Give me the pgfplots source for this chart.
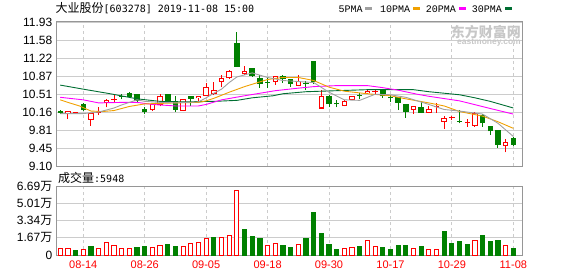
\documentclass[border=0pt]{standalone}
\usepackage{pgfplots}
\pgfplotsset{compat=1.18}
\usepackage{pgfplotstable}
\usepackage{fontspec}
\setmainfont{Liberation Sans}
\newfontfamily\cjk{Noto Sans CJK SC}
\newfontfamily\mono{Liberation Mono}
\newfontfamily\dmono{DejaVu Sans Mono}

\definecolor{cred}{RGB}{255,0,0}
\definecolor{cgreen}{RGB}{0,128,0}
\definecolor{ma5}{RGB}{160,160,160}
\definecolor{ma10}{RGB}{240,160,0}
\definecolor{ma20}{RGB}{255,0,255}
\definecolor{ma30}{RGB}{0,110,50}
\definecolor{gridc}{RGB}{204,204,204}
\definecolor{framec}{RGB}{150,150,150}

% up candles (close > open)
\pgfplotstableread{
i O C H L
1 10.12 10.19 10.19 10.03
2 10.14 10.16 10.16 10.13
4 10.01 10.14 10.15 9.89
5 10.15 10.17 10.25 10.11
6 10.33 10.40 10.41 10.25
7 10.40 10.42 10.51 10.34
12 10.20 10.32 10.33 10.18
13 10.29 10.47 10.52 10.27
16 10.19 10.41 10.42 10.18
18 10.43 10.47 10.48 10.37
19 10.48 10.65 10.74 10.47
20 10.52 10.60 10.75 10.50
21 10.75 10.82 10.89 10.65
22 10.82 10.97 10.99 10.81
24 10.90 10.97 11.07 10.89
28 10.75 10.86 10.87 10.70
31 10.68 10.77 10.88 10.67
34 10.23 10.47 10.59 10.23
37 10.28 10.38 10.39 10.27
38 10.40 10.47 10.48 10.39
40 10.53 10.58 10.61 10.52
41 10.56 10.58 10.60 10.50
46 10.21 10.27 10.28 10.13
48 10.15 10.22 10.27 10.14
49 10.25 10.27 10.34 10.15
50 9.97 10.05 10.09 9.83
51 10.04 10.06 10.09 10.00
53 9.94 9.96 10.02 9.87
54 9.89 10.15 10.16 9.87
58 9.49 9.58 9.63 9.37
}\redtab

% down candles (close < open)
\pgfplotstableread{
i O C H L
0 10.18 10.15 10.20 10.12
3 10.32 10.20 10.33 10.19
8 10.48 10.46 10.51 10.41
9 10.53 10.46 10.55 10.44
10 10.51 10.38 10.52 10.33
11 10.23 10.16 10.25 10.13
14 10.51 10.38 10.52 10.35
15 10.38 10.21 10.47 10.17
17 10.47 10.42 10.48 10.28
23 11.51 11.05 11.73 11.05
25 11.02 10.86 11.03 10.85
26 10.82 10.71 10.88 10.64
27 10.76 10.74 10.82 10.63
29 10.87 10.81 10.89 10.74
30 10.80 10.71 10.81 10.66
32 10.73 10.71 10.77 10.59
33 11.16 10.75 11.17 10.72
35 10.48 10.31 10.50 10.25
36 10.33 10.31 10.40 10.25
39 10.50 10.48 10.54 10.41
42 10.60 10.47 10.62 10.44
43 10.45 10.43 10.50 10.36
44 10.45 10.34 10.46 10.20
45 10.31 10.17 10.32 10.05
47 10.26 10.15 10.38 10.14
52 9.99 9.97 10.20 9.94
55 10.11 9.94 10.13 9.87
56 9.88 9.78 9.89 9.71
57 9.80 9.52 9.81 9.46
59 9.65 9.52 9.67 9.50
}\greentab

% volume (10k shares), red bars
\pgfplotstableread{
i v
0 0.59
1 0.59
3 0.49
5 0.65
6 1.18
7 0.95
8 0.65
9 0.59
12 0.75
13 0.95
16 0.79
17 1.08
18 1.18
19 1.64
21 1.74
22 1.93
23 6.26
27 0.95
28 1.15
31 1.05
37 0.59
38 0.69
40 1.38
41 0.79
46 0.59
48 0.49
49 0.49
54 1.38
58 0.88
}\volred

% volume, green bars
\pgfplotstableread{
i v
2 0.39
4 0.79
10 0.69
11 0.79
14 0.98
15 0.79
20 1.67
24 2.46
25 1.77
26 1.57
29 0.88
30 0.69
32 1.57
33 4.16
34 2.10
35 0.98
36 0.49
39 0.79
42 0.69
43 0.49
44 0.88
45 0.88
47 0.79
50 2.26
51 1.08
52 1.28
53 0.98
55 1.87
56 1.28
57 1.38
59 0.59
}\volgreen

\pgfplotsset{
  kstyle/.style={
    scale only axis, anchor=south west, width=466pt,
    xmin=-0.555, xmax=60.13,
    xtick={3,11,19,27,35,43,51,59},
    grid=major,
    x grid style={dashed, gridc, line width=0.8pt},
    y grid style={gridc, line width=0.8pt},
    major tick length=0pt,
    axis line style={framec, line width=1pt},
    yticklabel style={font=\fontsize{12}{12}\selectfont, anchor=east, inner sep=0pt, xshift=-3.5pt},
  },
  cbar/.style={draw=none, mark=none, forget plot,
    error bars/.cd, y dir=plus, y explicit, error mark=none,
    error bar style={#1}},
}

\begin{document}
\begin{tikzpicture}[x=1pt,y=1pt]

% ---------- price panel ----------
\begin{axis}[kstyle, at={(56pt,110pt)}, height=144pt,
  ymin=9.10, ymax=11.93,
  ytick={9.10,9.45375,9.8075,10.16125,10.515,10.86875,11.2225,11.57625,11.93},
  yticklabels={9.10,9.45,9.81,10.16,10.51,10.87,11.22,11.58,11.93},
  xticklabels={},
]
% wicks
\addplot[cbar={draw=cred, line width=1pt}]
  table[x=i, y=L, y error plus expr=\thisrow{H}-\thisrow{L}] {\redtab};
\addplot[cbar={draw=cgreen, line width=1pt}]
  table[x=i, y=L, y error plus expr=\thisrow{H}-\thisrow{L}] {\greentab};
% bodies
\addplot[cbar={draw=cgreen, line width=5.5pt}]
  table[x=i, y=C, y error plus expr=\thisrow{O}-\thisrow{C}] {\greentab};
\addplot[cbar={draw=cred, line width=5.5pt}]
  table[x=i, y=O, y error plus expr=\thisrow{C}-\thisrow{O}] {\redtab};
\addplot[cbar={draw=white, line width=3.5pt}]
  table[x=i, y expr=\thisrow{O}+0.0197, y error plus expr={max(\thisrow{C}-\thisrow{O}-0.0394,0)}] {\redtab};

% moving averages
\addplot[ma30, line width=0.9pt, mark=none] coordinates {
(0,10.69)(3,10.61)(6.5,10.52)(10,10.42)(13,10.37)(16,10.36)(20,10.37)(23,10.39)
(25,10.44)(27.7,10.48)(29,10.52)(32,10.56)(34,10.57)(36,10.58)(40,10.60)(43,10.60)
(46,10.60)(48,10.56)(50,10.53)(52,10.50)(54,10.44)(56,10.37)(59,10.24)};
\addplot[ma20, line width=0.9pt, mark=none] coordinates {
(0,10.45)(3,10.40)(5,10.34)(8,10.35)(10,10.35)(12,10.31)(15,10.28)(18,10.28)
(19,10.31)(21,10.40)(24,10.48)(26,10.53)(28,10.58)(31,10.63)(33,10.66)(36,10.68)
(40,10.68)(42,10.64)(44,10.59)(46.5,10.51)(48,10.47)(52,10.38)(56,10.23)(59,10.12)};
\addplot[ma10, line width=0.9pt, mark=none] coordinates {
(0,10.40)(1,10.35)(2.5,10.28)(4,10.18)(5.5,10.17)(7,10.19)(9,10.27)(11,10.32)
(13,10.33)(15,10.34)(18,10.35)(19,10.38)(20,10.43)(22,10.55)(24,10.66)(27,10.80)
(29,10.84)(31,10.84)(33,10.78)(35,10.65)(37,10.57)(40,10.52)(43,10.48)(45,10.42)
(48,10.34)(50,10.28)(52,10.17)(55,10.08)(57,9.97)(59,9.84)};
\addplot[ma5, line width=0.9pt, mark=none] coordinates {
(0,10.13)(3,10.13)(5,10.16)(7,10.24)(8,10.30)(10,10.40)(11,10.37)(13,10.35)
(15,10.34)(18,10.36)(19,10.44)(20,10.53)(21,10.61)(22,10.74)(23,10.85)(25,10.93)
(27,10.84)(29,10.78)(31,10.76)(33,10.74)(35,10.55)(37,10.40)(39,10.39)(41,10.51)
(43,10.50)(45,10.45)(48,10.31)(50,10.21)(52,10.18)(55,10.12)(57,9.94)(59,9.68)};
\end{axis}

% ---------- volume panel ----------
\begin{axis}[kstyle, at={(56pt,21pt)}, height=69pt,
  ymin=0, ymax=6.69,
  ytick={0,1.6725,3.345,5.0175,6.69},
  yticklabels={0,{1.67{\cjk 万}},{3.34{\cjk 万}},{5.01{\cjk 万}},{6.69{\cjk 万}}},
  xticklabels={08-14,08-26,09-05,09-18,09-30,10-17,10-29,11-08},
  xticklabel style={font=\fontsize{11}{11}\selectfont, text=cred, anchor=north, inner sep=0pt, yshift=-6pt},
]
\addplot[ybar, bar width=4.2pt, bar shift=0pt, draw=cred, fill=white, line width=1pt]
  table[x=i, y=v] {\volred};
\addplot[ybar, bar width=4.2pt, bar shift=0pt, draw=cgreen, fill=cgreen, line width=1pt]
  table[x=i, y=v] {\volgreen};
\end{axis}

% ---------- texts ----------
\node[anchor=base west, inner sep=0pt] at (55.5,263)
  {{\cjk\fontsize{12}{12}\selectfont 大业股份}{\dmono\fontsize{10}{10}\selectfont[603278] 2019-11-08 15:00}};
\node[anchor=base west, inner sep=0pt] at (58,93.5)
  {{\cjk\fontsize{12}{12}\selectfont 成交量}{\dmono\fontsize{10}{10}\selectfont:5948}};

\node[anchor=base west, inner sep=0pt, font=\mono\fontsize{10}{10}\selectfont] at (338.3,263.5) {5PMA};
\fill[ma5] (365,265.5) rectangle (372,268.5);
\node[anchor=base west, inner sep=0pt, font=\mono\fontsize{10}{10}\selectfont] at (380,263.5) {10PMA};
\fill[ma10] (413,265.5) rectangle (420,268.5);
\node[anchor=base west, inner sep=0pt, font=\mono\fontsize{10}{10}\selectfont] at (425.7,263.5) {20PMA};
\fill[ma20] (459,265.5) rectangle (466,268.5);
\node[anchor=base west, inner sep=0pt, font=\mono\fontsize{10}{10}\selectfont] at (471.7,263.5) {30PMA};
\fill[ma30] (505,265.5) rectangle (512,268.5);

% watermark
\node[anchor=north east, inner sep=0pt, text=black!22, font=\cjk\bfseries\fontsize{14}{14}\selectfont] at (521,251) {东方财富网};
\node[anchor=north east, inner sep=0pt, text=black!22, font=\bfseries\fontsize{8.5}{8.5}\selectfont] at (521,237) {eastmoney.com};

\pgfresetboundingbox
\path[use as bounding box] (0,0) rectangle (578,276);
\end{tikzpicture}
\end{document}
